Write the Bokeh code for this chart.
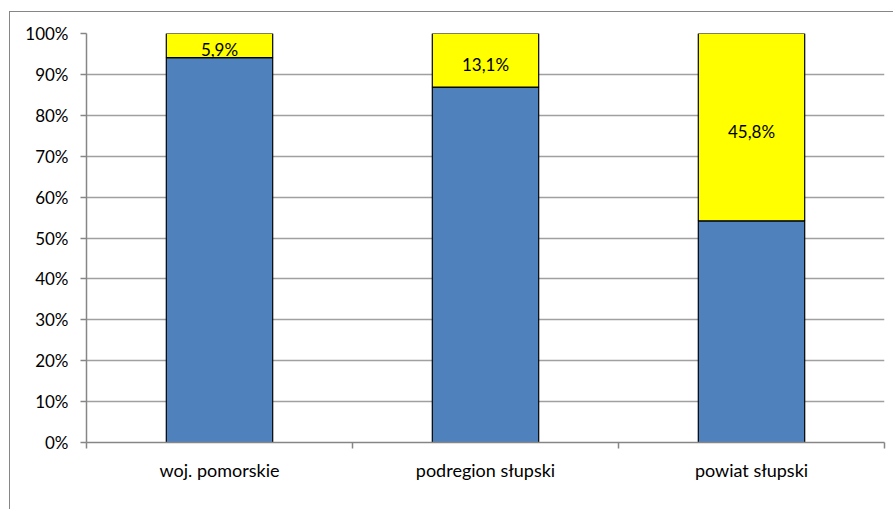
from bokeh.plotting import figure
from bokeh.models import FixedTicker, ColumnDataSource, Range1d, PrintfTickFormatter
from bokeh.embed import file_html
from bokeh.resources import INLINE
from bokeh.core.properties import value

categories = ["woj. pomorskie", "podregion słupski", "powiat słupski"]
share_blue = [94.1, 86.9, 54.2]
share_yellow = [5.9, 13.1, 45.8]
yellow_labels = ["5,9%", "13,1%", "45,8%"]
y_ticks = [0, 10, 20, 30, 40, 50, 60, 70, 80, 90, 100]

FONT = "Lato"

xs = [i + 0.5 for i in range(len(categories))]
tops = [b + y for b, y in zip(share_blue, share_yellow)]
mids = [b + y / 2 for b, y in zip(share_blue, share_yellow)]

src = ColumnDataSource(dict(x=xs, blue=share_blue, top=tops, mid=mids, lab=yellow_labels))

p = figure(frame_width=798, frame_height=409, output_backend="svg", toolbar_location=None,
           x_range=Range1d(0, len(categories)), y_range=Range1d(0, 100),
           min_border_left=76, min_border_top=21, min_border_right=9, min_border_bottom=67)
p.styles = {"border-left": "1px solid #868686", "border-top": "1px solid #868686",
            "margin-left": "9px", "margin-top": "11px"}

p.vbar(x="x", bottom=0, top="blue", width=0.4, source=src, fill_color="#4f81bd",
       line_color="#000000", line_width=1.2)
p.vbar(x="x", bottom="blue", top="top", width=0.4, source=src, fill_color="#ffff00",
       line_color="#000000", line_width=1.2)
p.text(x="x", y="mid", text="lab", source=src, text_align="center", text_baseline="middle",
       text_font=value(FONT), text_font_size="17px", text_color="#000000", y_offset=4)

p.outline_line_color = None
p.xgrid.grid_line_color = None
p.ygrid.ticker = FixedTicker(ticks=y_ticks)
p.ygrid.grid_line_color = "#a0a0a0"
p.ygrid.grid_line_width = 1.5

p.yaxis.ticker = FixedTicker(ticks=y_ticks)
p.yaxis.formatter = PrintfTickFormatter(format="%d%%")
p.yaxis.axis_line_color = "#868686"
p.yaxis.axis_line_width = 1.5
p.yaxis.major_tick_line_color = "#868686"
p.yaxis.major_tick_line_width = 1.5
p.yaxis.major_tick_out = 6
p.yaxis.major_tick_in = 0
p.yaxis.minor_tick_line_color = None
p.yaxis.major_label_standoff = 12
p.yaxis.major_label_text_font = FONT
p.yaxis.major_label_text_font_size = "17px"
p.yaxis.major_label_text_color = "#000000"

p.xaxis.ticker = FixedTicker(ticks=xs, minor_ticks=list(range(len(categories) + 1)))
p.xaxis.major_label_overrides = {x: c for x, c in zip(xs, categories)}
p.xaxis.axis_line_color = "#868686"
p.xaxis.axis_line_width = 1.5
p.xaxis.major_tick_line_color = None
p.xaxis.minor_tick_line_color = "#868686"
p.xaxis.minor_tick_line_width = 1.5
p.xaxis.minor_tick_out = 6
p.xaxis.minor_tick_in = 0
p.xaxis.major_label_standoff = 10
p.xaxis.major_label_text_font = FONT
p.xaxis.major_label_text_font_size = "18px"
p.xaxis.major_label_text_color = "#000000"

open("out.html", "w").write(file_html(p, INLINE))
